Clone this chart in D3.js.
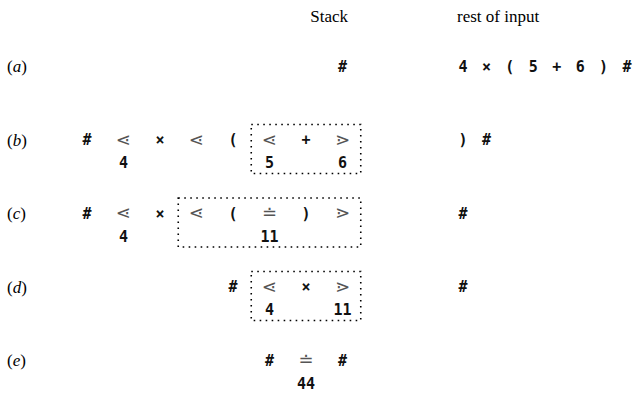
<!DOCTYPE html>
<html><head><meta charset="utf-8">
<script src="https://cdn.jsdelivr.net/npm/d3@7/dist/d3.min.js"></script>
<style>body{margin:0;background:#fff}</style>
</head><body>
<script>
// ---- data ----
const rowLabels = ["a", "b", "c", "d", "e"];
const headers = ["Stack", "rest of input"];
// stack tokens: [row, column, symbol]
const stackTokens = [
  [0, 7, "#"],
  [1, 0, "#"], [1, 1, "⋖"], [1, 2, "×"], [1, 3, "⋖"], [1, 4, "("], [1, 5, "⋖"], [1, 6, "+"], [1, 7, "⋗"],
  [2, 0, "#"], [2, 1, "⋖"], [2, 2, "×"], [2, 3, "⋖"], [2, 4, "("], [2, 5, "≐"], [2, 6, ")"], [2, 7, "⋗"],
  [3, 4, "#"], [3, 5, "⋖"], [3, 6, "×"], [3, 7, "⋗"],
  [4, 5, "#"], [4, 6, "≐"], [4, 7, "#"]
];
// values under the stack: [row, column, value]
const stackValues = [
  [1, 1, "4"], [1, 5, "5"], [1, 7, "6"],
  [2, 1, "4"], [2, 5, "11"],
  [3, 5, "4"], [3, 7, "11"],
  [4, 6, "44"]
];
// boxed handles: [row, firstColumn, lastColumn]
const handles = [[1, 5, 7], [2, 3, 7], [3, 5, 7]];
// rest of input per row
const inputs = [
  ["4", "×", "(", "5", "+", "6", ")", "#"],
  [")", "#"],
  ["#"],
  ["#"],
  []
];
const relations = new Set(["⋖", "⋗", "≐"]);

// ---- layout ----
const W = 633, H = 395;
const svg = d3.select("body").append("svg").attr("width", W).attr("height", H);
const x = d3.scaleLinear().domain([0, 7]).range([87, 342.5]);
const y = d3.scaleLinear().domain([0, 4]).range([66, 360]);
const xIn = d3.scaleLinear().domain([0, 7]).range([463, 627]);
const sub = 23;
const mono = "'DejaVu Sans Mono', monospace";
const serif = "'Liberation Serif', 'Times New Roman', serif";

// headers
svg.append("text").attr("x", 348).attr("y", 22).attr("text-anchor", "end")
  .attr("font-family", serif).attr("font-size", 17).text(headers[0]);
svg.append("text").attr("x", 457).attr("y", 22)
  .attr("font-family", serif).attr("font-size", 17).text(headers[1]);

// row labels
rowLabels.forEach((l, i) => {
  const t = svg.append("text").attr("x", 7).attr("y", y(i) + 6)
    .attr("font-family", serif).attr("font-size", 17);
  t.append("tspan").text("(");
  t.append("tspan").attr("font-style", "italic").text(l);
  t.append("tspan").text(")");
});

// boxes
svg.selectAll("rect.handle").data(handles).join("rect").attr("class", "handle")
  .attr("x", d => x(d[1] - 0.5)).attr("y", d => y(d[0]) - 15)
  .attr("width", d => x(d[2] + 0.5) - x(d[1] - 0.5)).attr("height", 49)
  .attr("fill", "none").attr("stroke", "#000").attr("stroke-width", 1.6)
  .attr("stroke-dasharray", "1.6 4.4");

// stack tokens
svg.selectAll("text.tok").data(stackTokens).join("text").attr("class", "tok")
  .attr("x", d => x(d[1])).attr("y", d => y(d[0]) + (relations.has(d[2]) ? 6 : 5.5))
  .attr("text-anchor", "middle")
  .attr("font-family", d => relations.has(d[2]) ? "'DejaVu Sans', sans-serif" : mono)
  .attr("font-weight", d => relations.has(d[2]) ? "normal" : "bold")
  .attr("font-size", d => relations.has(d[2]) ? 18 : 15)
  .attr("fill", d => relations.has(d[2]) ? "#555" : "#111")
  .text(d => d[2]);

// values
svg.selectAll("text.val").data(stackValues).join("text").attr("class", "val")
  .attr("x", d => x(d[1])).attr("y", d => y(d[0]) + sub + 5.5)
  .attr("text-anchor", "middle")
  .attr("font-family", mono).attr("font-weight", "bold").attr("font-size", 15)
  .attr("fill", "#111").text(d => d[2]);

// rest of input
inputs.forEach((row, r) => {
  svg.selectAll(null).data(row).join("text")
    .attr("x", (d, i) => xIn(i)).attr("y", y(r) + 5.5)
    .attr("text-anchor", "middle")
    .attr("font-family", mono).attr("font-weight", "bold").attr("font-size", 15)
    .attr("fill", "#111").text(d => d);
});
</script>
</body></html>
